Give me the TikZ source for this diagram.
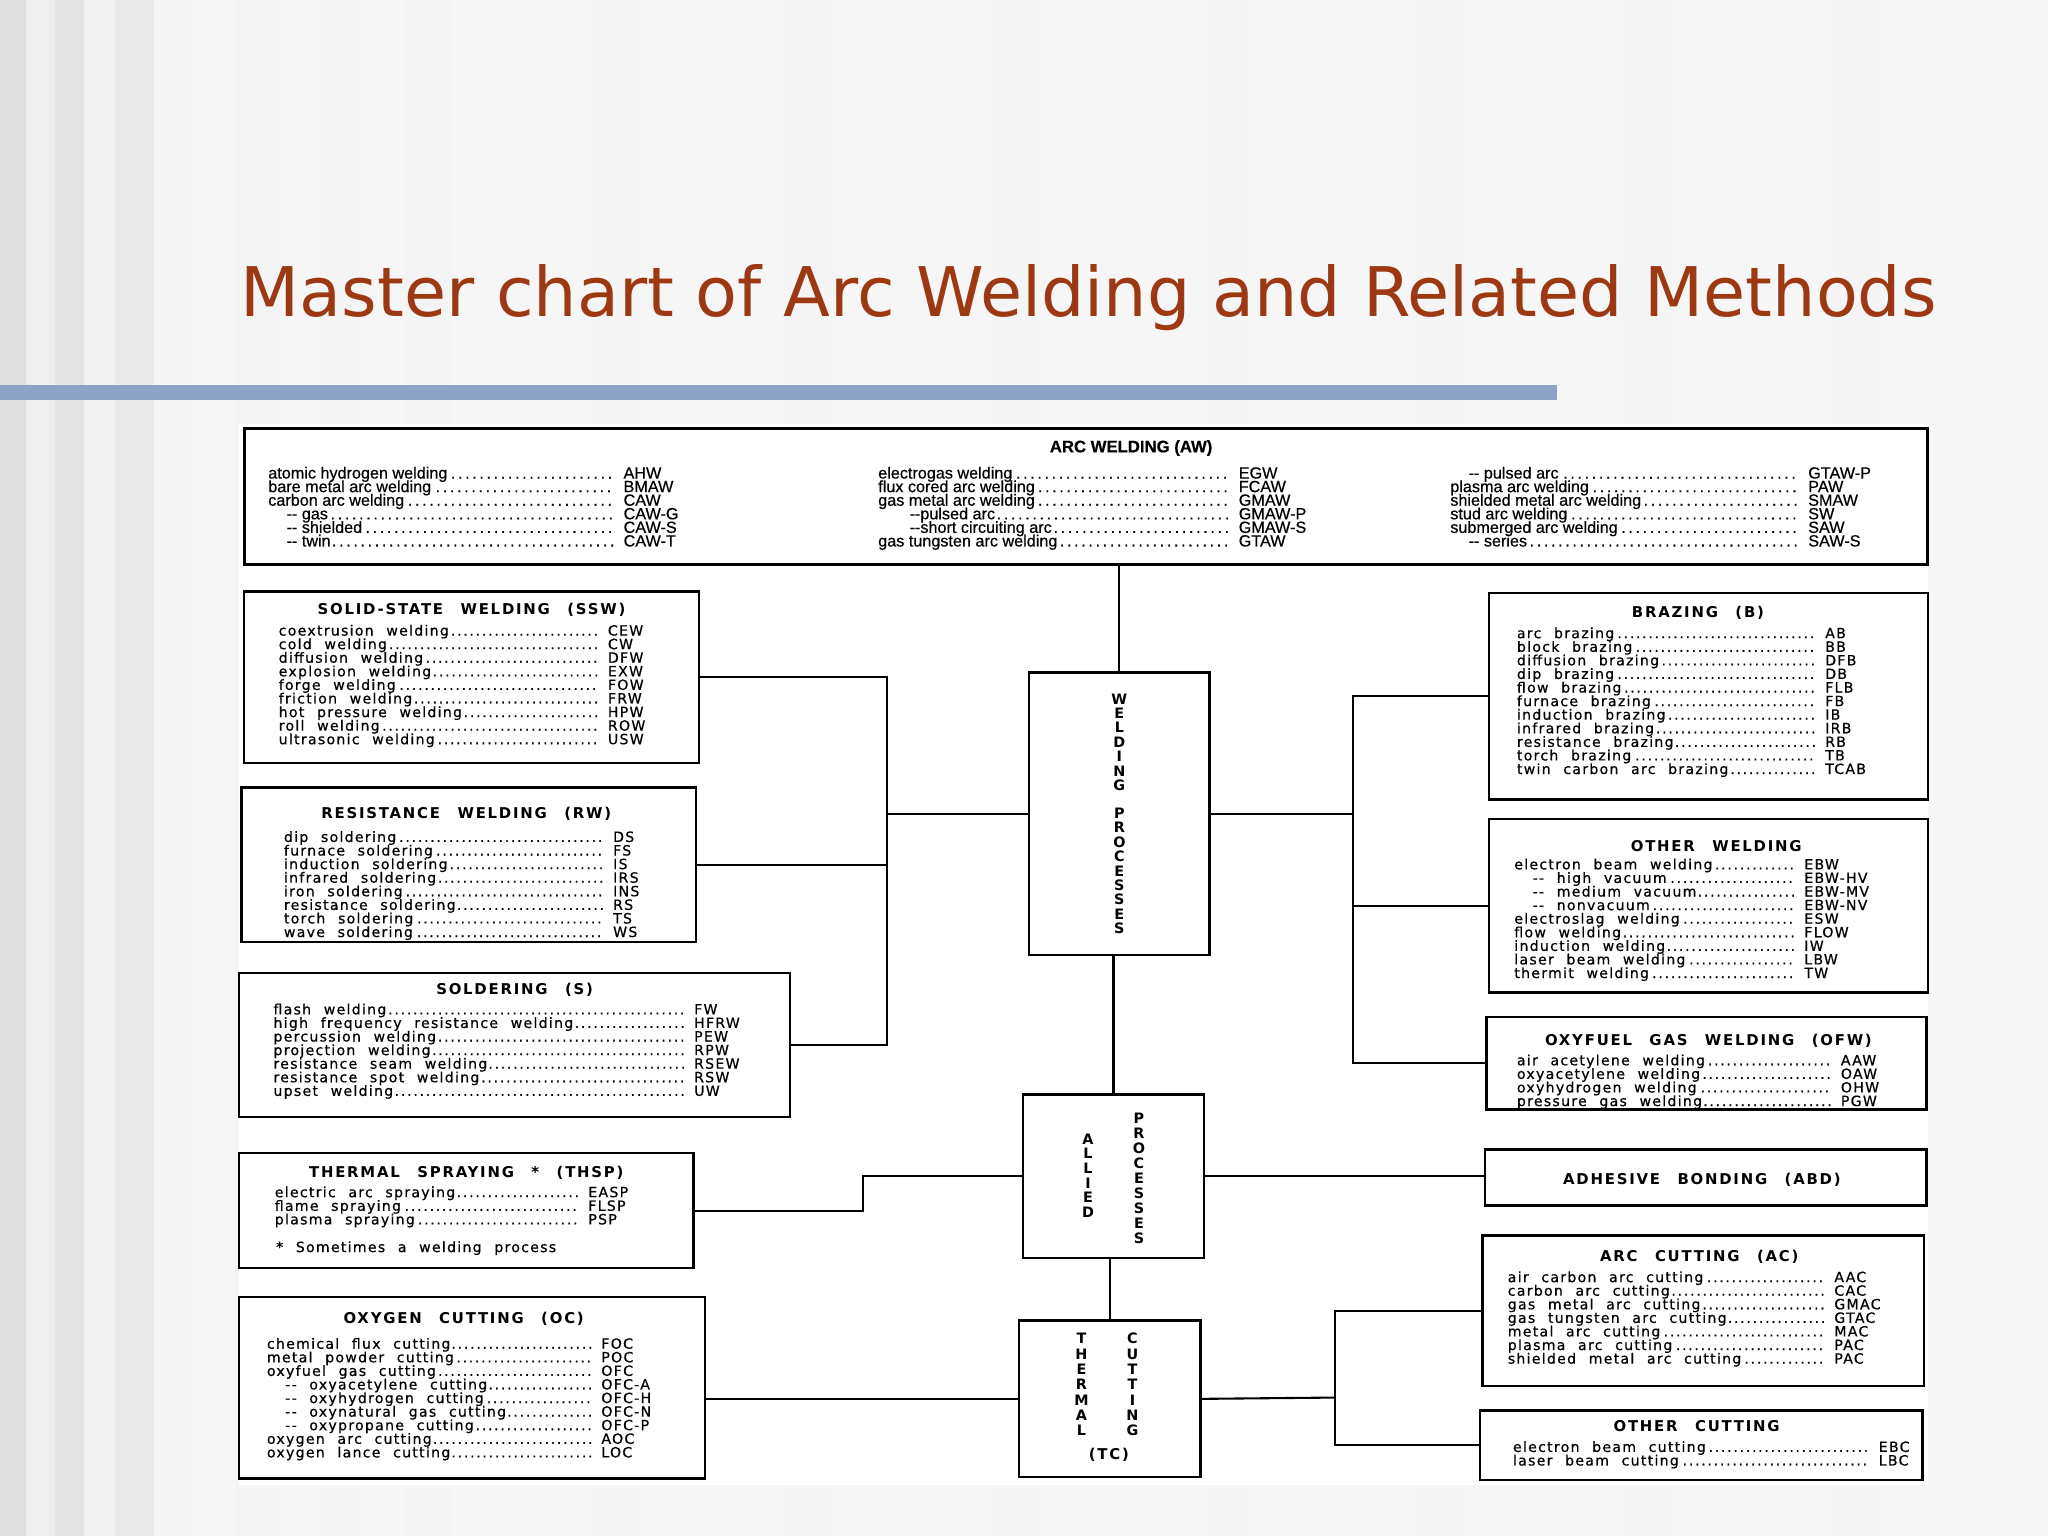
\documentclass[tikz,border=0pt]{standalone}
\usepackage{fontspec}
\setmainfont{DejaVu Sans}
\newfontfamily\bodyf[LetterSpace=9,WordSpace=2.2,FakeBold=0.6]{DejaVu Sans}
\newfontfamily\headf[LetterSpace=12,WordSpace=2.5]{DejaVu Sans Bold}
\newfontfamily\narrowf[FakeBold=0.5]{Liberation Sans}
\newcommand\en[3]{\makebox[#1pt][l]{#2\dotfill}\hspace{3pt}#3\\}
\newcommand\ind{\hspace*{7pt}-{}- }
\newcommand\tightl{\lineskiplimit=-10pt\lineskip=0pt\relax}
\definecolor{titlec}{RGB}{156,56,18}
\definecolor{barc}{RGB}{140,163,199}
\begin{document}
\begin{tikzpicture}[x=0.5pt,y=-0.5pt,
 box/.style={draw,line width=0.9pt,inner sep=0,fill=white},
 lst/.style={anchor=north west,inner sep=0,align=left,font=\bodyf\fontsize{5.4}{5.2}\selectfont\tightl},
 hd/.style={inner sep=0,font=\headf\fontsize{5.7}{6}\selectfont},
 vt/.style={inner sep=0,align=center,font=\headf\fontsize{5.5}{5.5}\selectfont},
 ln/.style={line width=0.8pt}]
\useasboundingbox (0,0) rectangle (1568,1176);
\fill[gray!7] (0,0) rectangle (1568,1176);
\foreach \a/\b/\g in {0/20/24,20/42/13,42/64/21,64/88/11,88/118/17,118/150/8,180/215/9,245/280/8,310/345/9,380/420/7,450/490/8,520/560/7,600/640/8,680/720/7,760/800/8,840/880/7,920/960/8,1000/1040/7,1080/1120/8,1160/1200/7,1240/1280/8,1320/1360/7,1400/1440/8,1480/1520/7}
 \fill[gray!\g] (\a,0) rectangle (\b,1176);
\node[anchor=south west,inner sep=0,text=titlec,font=\fontsize{26.2}{28}\selectfont] (title) at (184,254) {Master chart of Arc Welding and Related Methods};
\fill[barc] (0,295) rectangle (1192,306);
\fill[white] (183,325) rectangle (1476,1137);

% boxes
\node[box,line width=1.2pt,minimum width=644.5pt,minimum height=52pt] (aw) at (831.5,380) {};
\node[box,minimum width=174pt,minimum height=65.5pt] (ssw) at (361,518.5) {};
\node[box,minimum width=174pt,minimum height=59pt] (rw) at (359,662) {};
\node[box,minimum width=211pt,minimum height=55pt] (s) at (394,800) {};
\node[box,minimum width=168pt,minimum height=79pt] (b) at (1308,533) {};
\node[box,minimum width=168pt,minimum height=66.5pt] (ow) at (1308,693.5) {};
\node[box,minimum width=168.5pt,minimum height=35.5pt] (ofw) at (1306.5,814) {};
\node[box,minimum width=174pt,minimum height=44pt] (thsp) at (357,927) {};
\node[box,minimum width=178.5pt,minimum height=69.5pt] (oc) at (361.5,1062.5) {};
\node[box,minimum width=169pt,minimum height=21.5pt] (abd) at (1306,901.5) {};
\node[box,minimum width=169pt,minimum height=57.5pt] (ac) at (1304,1003.5) {};
\node[box,minimum width=169.5pt,minimum height=26.5pt] (otc) at (1302.5,1106.5) {};
\node[box,minimum width=69pt,minimum height=108pt] (wp) at (857,623) {};
\node[box,minimum width=69.5pt,minimum height=62.5pt] (ap) at (852.5,900.5) {};
\node[box,minimum width=69.5pt,minimum height=60pt] (tc) at (849.5,1071) {};

% connectors
\coordinate (lb) at (679,623);
\coordinate (rb) at (1036,623);
\coordinate (tb) at (1022,1070);
\draw[ln] (wp.north) -- (wp.north |- aw.south);
\draw[ln] (ap.north) -- (ap.north |- wp.south);
\draw[ln] (tc.north) -- (tc.north |- ap.south);
\draw[ln] (ssw.east) -| (lb);
\draw[ln] (s.east) -| (lb);
\draw[ln] (rw.east) -- (rw.east -| lb);
\draw[ln] (lb) -- (wp.west);
\draw[ln] (b.west) -| (rb);
\draw[ln] (ofw.west) -| (rb);
\draw[ln] (ow.west) -- (ow.west -| rb);
\draw[ln] (wp.east) -- (rb);
\draw[ln] (thsp.east) -- ++(129,0) |- (ap.west);
\draw[ln] (ap.east) -- (ap.east -| abd.west);
\draw[ln] (tc.west) -- (tc.west -| oc.east);
\draw[ln] (ac.west) -| (tb);
\draw[ln] (otc.west) -| (tb);
\draw[ln] (tc.east) -- (tb);

% vertical labels
\node[vt] (wpt) at (wp) {W\\E\\L\\D\\I\\N\\G\\[5.3pt]P\\R\\O\\C\\E\\S\\S\\E\\S};
\node[vt,font=\headf\fontsize{5.5}{5.6}\selectfont] (apa) at (833,900) {A\\L\\L\\I\\E\\D};
\node[vt,font=\headf\fontsize{5.5}{5.75}\selectfont] (app) at (872,902) {P\\R\\O\\C\\E\\S\\S\\E\\S};
\node[vt,font=\headf\fontsize{5.5}{5.85}\selectfont] (tct) at (828,1060) {T\\H\\E\\R\\M\\A\\L};
\node[vt,font=\headf\fontsize{5.5}{5.85}\selectfont] (tcc) at (867,1060) {C\\U\\T\\T\\I\\N\\G};
\node[hd] (tcl) at (849,1114) {(TC)};

% headers
\node[hd,font=\narrowf\bfseries\fontsize{6.4}{7}\selectfont] (awh) at (866,343) {ARC WELDING (AW)};
\node[hd] (sswh) at (361,467) {SOLID-STATE WELDING (SSW)};
\node[hd] (rwh) at (357,623) {RESISTANCE WELDING (RW)};
\node[hd] (sh) at (394,758) {SOLDERING (S)};
\node[hd] (bh) at (1300,469) {BRAZING (B)};
\node[hd] (owh) at (1314,648) {OTHER WELDING};
\node[hd] (ofwh) at (1308,797) {OXYFUEL GAS WELDING (OFW)};
\node[hd] (thh) at (357,898) {THERMAL SPRAYING\ *\ (THSP)};
\node[hd] (och) at (355,1010) {OXYGEN CUTTING (OC)};
\node[hd] (abdh) at (1303,903) {ADHESIVE BONDING (ABD)};
\node[hd] (ach) at (1301,962) {ARC CUTTING (AC)};
\node[hd] (otch) at (1299,1092) {OTHER CUTTING};

% lists
\begin{scope}[every node/.append style={lst}]
\node[font=\narrowf\fontsize{6.2}{5.2}\selectfont\tightl] (aw1) at (205,357) {\en{133}{atomic hydrogen welding}{AHW}\en{133}{bare metal arc welding}{BMAW}\en{133}{carbon arc welding}{CAW}\en{133}{\ind gas}{CAW-G}\en{133}{\ind shielded}{CAW-S}\en{133}{\ind twin}{CAW-T}};
\node[font=\narrowf\fontsize{6.2}{5.2}\selectfont\tightl] (aw2) at (672,357) {\en{135}{electrogas welding}{EGW}\en{135}{flux cored arc welding}{FCAW}\en{135}{gas metal arc welding}{GMAW}\en{135}{\hspace*{12pt}-{}-pulsed arc}{GMAW-P}\en{135}{\hspace*{12pt}-{}-short circuiting arc}{GMAW-S}\en{135}{gas tungsten arc welding}{GTAW}};
\node[font=\narrowf\fontsize{6.2}{5.2}\selectfont\tightl] (aw3) at (1110,357) {\en{134}{\ind pulsed arc}{GTAW-P}\en{134}{plasma arc welding}{PAW}\en{134}{shielded metal arc welding}{SMAW}\en{134}{stud arc welding}{SW}\en{134}{submerged arc welding}{SAW}\en{134}{\ind series}{SAW-S}};
\node (sswl) at (213,478) {\en{123}{coextrusion welding}{CEW}\en{123}{cold welding}{CW}\en{123}{diffusion welding}{DFW}\en{123}{explosion welding}{EXW}\en{123}{forge welding}{FOW}\en{123}{friction welding}{FRW}\en{123}{hot pressure welding}{HPW}\en{123}{roll welding}{ROW}\en{123}{ultrasonic welding}{USW}};
\node (rwl) at (217,636) {\en{123}{dip soldering}{DS}\en{123}{furnace soldering}{FS}\en{123}{induction soldering}{IS}\en{123}{infrared soldering}{IRS}\en{123}{iron soldering}{INS}\en{123}{resistance soldering}{RS}\en{123}{torch soldering}{TS}\en{123}{wave soldering}{WS}};
\node (sl) at (209,768) {\en{158}{flash welding}{FW}\en{158}{high frequency resistance welding}{HFRW}\en{158}{percussion welding}{PEW}\en{158}{projection welding}{RPW}\en{158}{resistance seam welding}{RSEW}\en{158}{resistance spot welding}{RSW}\en{158}{upset welding}{UW}};
\node (bl) at (1161,480) {\en{115}{arc brazing}{AB}\en{115}{block brazing}{BB}\en{115}{diffusion brazing}{DFB}\en{115}{dip brazing}{DB}\en{115}{flow brazing}{FLB}\en{115}{furnace brazing}{FB}\en{115}{induction brazing}{IB}\en{115}{infrared brazing}{IRB}\en{115}{resistance brazing}{RB}\en{115}{torch brazing}{TB}\en{115}{twin carbon arc brazing}{TCAB}};
\node (owl) at (1159,657) {\en{108}{electron beam welding}{EBW}\en{108}{\ind high vacuum}{EBW-HV}\en{108}{\ind medium vacuum}{EBW-MV}\en{108}{\ind nonvacuum}{EBW-NV}\en{108}{electroslag welding}{ESW}\en{108}{flow welding}{FLOW}\en{108}{induction welding}{IW}\en{108}{laser beam welding}{LBW}\en{108}{thermit welding}{TW}};
\node (ofwl) at (1161,807) {\en{121}{air acetylene welding}{AAW}\en{121}{oxyacetylene welding}{OAW}\en{121}{oxyhydrogen welding}{OHW}\en{121}{pressure gas welding}{PGW}};
\node (thl) at (210,908) {\en{117}{electric arc spraying}{EASP}\en{117}{flame spraying}{FLSP}\en{117}{plasma spraying}{PSP}};
\node (thn) at (211,950) {* Sometimes a welding process};
\node (ocl) at (204,1024) {\en{125}{chemical flux cutting}{FOC}\en{125}{metal powder cutting}{POC}\en{125}{oxyfuel gas cutting}{OFC}\en{125}{\ind oxyacetylene cutting}{OFC-A}\en{125}{\ind oxyhydrogen cutting}{OFC-H}\en{125}{\ind oxynatural gas cutting}{OFC-N}\en{125}{\ind oxypropane cutting}{OFC-P}\en{125}{oxygen arc cutting}{AOC}\en{125}{oxygen lance cutting}{LOC}};
\node (acl) at (1154,973) {\en{122}{air carbon arc cutting}{AAC}\en{122}{carbon arc cutting}{CAC}\en{122}{gas metal arc cutting}{GMAC}\en{122}{gas tungsten arc cutting}{GTAC}\en{122}{metal arc cutting}{MAC}\en{122}{plasma arc cutting}{PAC}\en{122}{shielded metal arc cutting}{PAC}};
\node (otcl) at (1158,1103) {\en{137}{electron beam cutting}{EBC}\en{137}{laser beam cutting}{LBC}};
\end{scope}
\end{tikzpicture}
\end{document}
